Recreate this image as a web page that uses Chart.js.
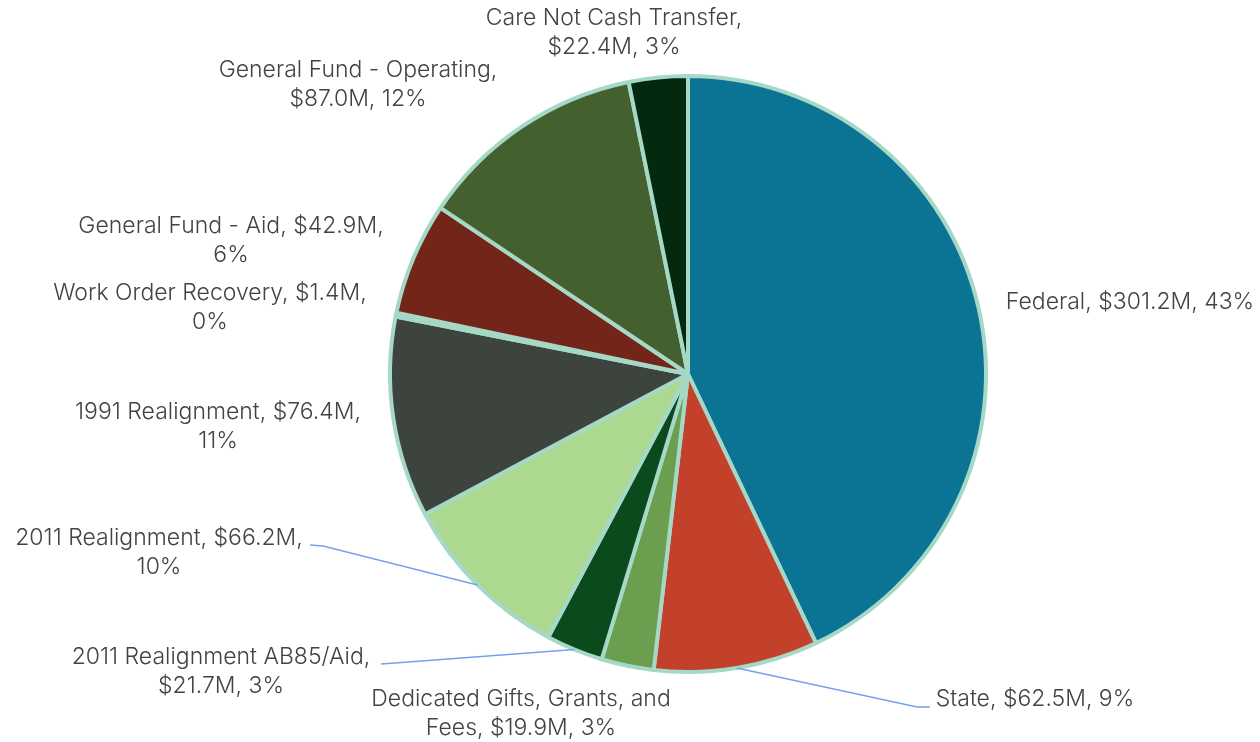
<!DOCTYPE html>
<html>
<head>
<meta charset="utf-8">
<script src="https://cdn.jsdelivr.net/npm/chart.js@4.4.0/dist/chart.umd.min.js"></script>
<style>
  html, body { margin: 0; padding: 0; background: #fff; }
  #wrap { width: 1260px; height: 742px; position: relative; }
</style>
</head>
<body>
<div id="wrap"><canvas id="fundChart"></canvas></div>
<script>
const categories = [
    'Federal',
    'State',
    'Dedicated Gifts, Grants, and Fees',
    '2011 Realignment AB85/Aid',
    '2011 Realignment',
    '1991 Realignment',
    'Work Order Recovery',
    'General Fund - Aid',
    'General Fund - Operating',
    'Care Not Cash Transfer'
];
const amounts = [301.2, 62.5, 19.9, 21.7, 66.2, 76.4, 1.4, 42.9, 87.0, 22.4]; // $M
const shares = [43, 9, 3, 3, 10, 11, 0, 6, 12, 3]; // % as printed

const sliceColors = [
    '#0b7394', '#c3402a', '#6b9e4f', '#0b4a1c', '#acd98f',
    '#3d443d', '#a6d8c7', '#73251a', '#44602f', '#03290f'
];

// label placement: centre x, first line y, words on first line, optional leader points
const labelLayout = [
    { x: 1130, y: 302, wrap: 0 },
    { x: 1035, y: 699, wrap: 0, leader: [[930, 707], [917, 707]] },
    { x: 521, y: 699, wrap: 4 },
    { x: 221, y: 657, wrap: 3, leader: [[381, 664], [395, 663]] },
    { x: 159, y: 538, wrap: 3, leader: [[310, 545], [323, 546]] },
    { x: 218, y: 412, wrap: 3 },
    { x: 210, y: 293, wrap: 4 },
    { x: 231, y: 226, wrap: 5 },
    { x: 358, y: 70, wrap: 4 },
    { x: 614, y: 18, wrap: 4 }
];

const sliceLabels = {
    id: 'sliceLabels',
    afterDraw(chart) {
        const ctx = chart.ctx;
        const arcs = chart.getDatasetMeta(0).data;
        ctx.save();
        arcs.forEach((arc, i) => {
            const pos = labelLayout[i];
            if (pos.leader) {
                const mid = (arc.startAngle + arc.endAngle) / 2;
                ctx.beginPath();
                ctx.moveTo(pos.leader[0][0], pos.leader[0][1]);
                for (let k = 1; k < pos.leader.length; k++) {
                    ctx.lineTo(pos.leader[k][0], pos.leader[k][1]);
                }
                ctx.lineTo(arc.x + Math.cos(mid) * arc.outerRadius, arc.y + Math.sin(mid) * arc.outerRadius);
                ctx.strokeStyle = '#76a0f0';
                ctx.lineWidth = 1.5;
                ctx.stroke();
            }
            const text = `${categories[i]}, $${amounts[i].toFixed(1)}M, ${shares[i]}%`;
            const words = text.split(' ');
            const lines = pos.wrap ? [words.slice(0, pos.wrap).join(' '), words.slice(pos.wrap).join(' ')] : [text];
            ctx.font = '300 23px Inter';
            ctx.fillStyle = '#404541';
            ctx.textAlign = 'center';
            ctx.textBaseline = 'middle';
            lines.forEach((line, j) => {
                ctx.fillText(line, pos.x, pos.y + j * 29);
            });
        });
        ctx.restore();
    }
};

const ctx = document.getElementById('fundChart').getContext('2d');
const fundChart = new Chart(ctx, {
    type: 'pie',
    data: {
        labels: categories,
        datasets: [{
            data: amounts,
            backgroundColor: sliceColors,
            borderColor: '#a6d8c7',
            borderWidth: 4,
            radius: 298
        }]
    },
    options: {
        responsive: true,
        maintainAspectRatio: false,
        animation: false,
        layout: { padding: { left: 116, top: 6, right: 0, bottom: 0 } },
        plugins: {
            legend: { display: false },
            tooltip: { enabled: false }
        }
    },
    plugins: [sliceLabels]
});
</script>
</body>
</html>
